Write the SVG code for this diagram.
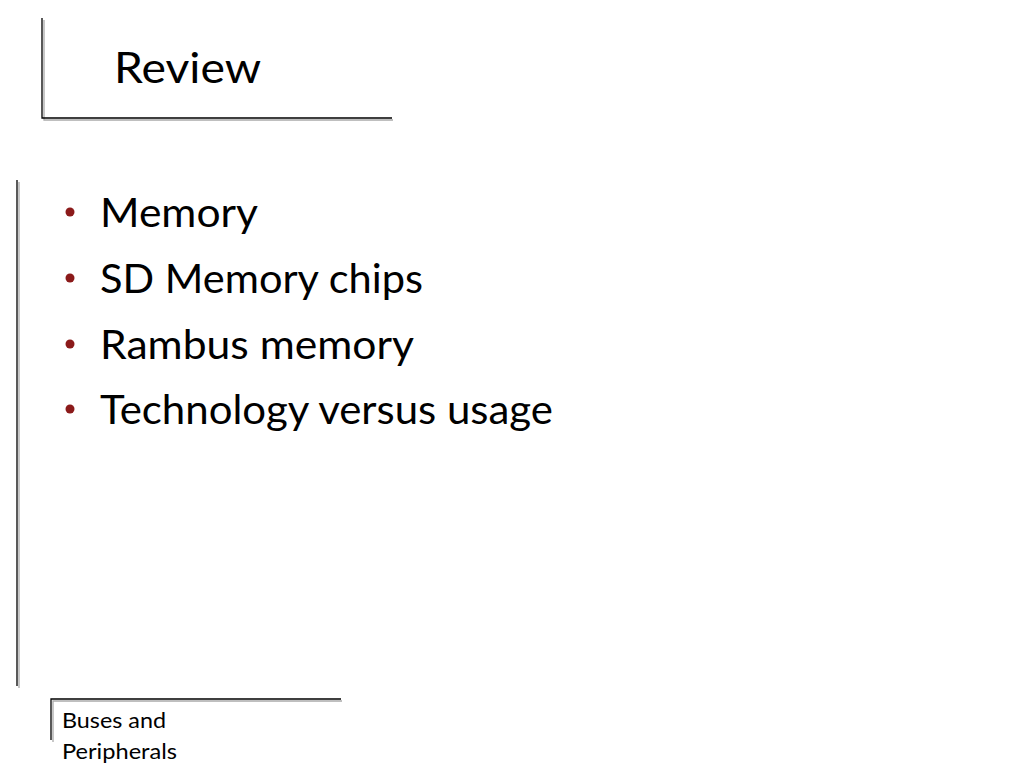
<svg xmlns="http://www.w3.org/2000/svg" width="1024" height="768" viewBox="0 0 1024 768">
<style>
.t{font-family:Lato,"Open Sans","Liberation Sans",sans-serif;fill:#000}
.b{font-size:40px}
.dot{fill:#8B1A1A}
.ln{stroke:#000;stroke-width:1.3;fill:none}
.sh{stroke:#aaa;stroke-width:1.3;fill:none}
</style>
<rect width="1024" height="768" fill="#fff"/>
<g id="title">
<path class="sh" d="M44 20V120H393"/>
<path class="ln" d="M42 18V118H392"/>
<text class="t" x="114" y="83" font-size="42" textLength="147" lengthAdjust="spacingAndGlyphs">Review</text>
</g>
<g id="body">
<path class="sh" d="M19 182V688"/>
<path class="ln" d="M17 180V686"/>
<circle class="dot" cx="70" cy="212" r="4.5"/>
<text class="t b" x="100" y="227" textLength="158" lengthAdjust="spacingAndGlyphs">Memory</text>
<circle class="dot" cx="70" cy="278" r="4.5"/>
<text class="t b" x="100" y="293" textLength="323" lengthAdjust="spacingAndGlyphs">SD Memory chips</text>
<circle class="dot" cx="70" cy="344" r="4.5"/>
<text class="t b" x="100" y="359" textLength="314" lengthAdjust="spacingAndGlyphs">Rambus memory</text>
<circle class="dot" cx="70" cy="409" r="4.5"/>
<text class="t b" x="100" y="424" textLength="453" lengthAdjust="spacingAndGlyphs">Technology versus usage</text>
</g>
<g id="footer">
<path class="sh" d="M53 742V701H342"/>
<path class="ln" d="M51 740V699H341"/>
<text class="t" x="62" y="728" font-size="21" textLength="104" lengthAdjust="spacingAndGlyphs">Buses and</text>
<text class="t" x="62" y="759" font-size="21" textLength="115" lengthAdjust="spacingAndGlyphs">Peripherals</text>
</g>
</svg>
